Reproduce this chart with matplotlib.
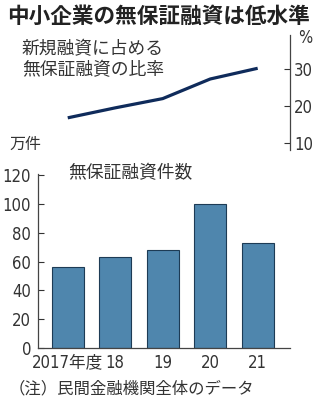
import matplotlib
matplotlib.use("Agg")
import matplotlib.pyplot as plt

years = ["2017年度", "18", "19", "20", "21"]
ratio = [16.8, 19.5, 22.0, 27.3, 30.2]       # %, unsecured share of new loans
counts = [56, 63, 68, 100, 73]                 # 万件

jp = ["Noto Sans CJK JP", "DejaVu Sans"]
num = ["DejaVu Sans", "Noto Sans CJK JP"]
txt = "#333333"

fig = plt.figure(figsize=(3.19, 4.05), dpi=100)

xs = list(range(len(years)))
xlim = (-0.627, 4.68)

# top: ratio line, right axis
ax1 = fig.add_axes([0.119, 0.6296, 0.790, 0.284])
ax1.plot(xs, ratio, color="#0f2b5b", lw=2.3, solid_capstyle="butt")
ax1.set_xlim(*xlim)
ax1.set_ylim(8.1, 39.2)
ax1.yaxis.tick_right()
ax1.set_yticks([10, 20, 30])
ax1.tick_params(axis="y", direction="in", length=4, width=0.8, pad=3,
                colors=txt, labelsize=12)
ax1.set_xticks([])
for s in ["top", "left", "bottom"]:
    ax1.spines[s].set_visible(False)
ax1.spines["right"].set_color("#444444")
ax1.spines["right"].set_linewidth(0.9)
for lab in ax1.get_yticklabels():
    lab.set_family(num)
    lab.set_fontstretch("condensed")

# bottom: bar chart
ax2 = fig.add_axes([0.119, 0.1407, 0.790, 0.4296])
ax2.bar(xs, counts, width=0.68, color="#4f86ad", edgecolor="#1d3b55", lw=0.8)
ax2.set_xlim(*xlim)
ax2.set_ylim(0, 121)
ax2.set_yticks(range(0, 121, 20))
ax2.set_xticks(xs)
ax2.set_xticklabels(years)
ax2.tick_params(axis="y", direction="in", length=4, width=0.8, pad=5,
                colors=txt, labelsize=12)
ax2.tick_params(axis="x", length=0, pad=4, colors=txt, labelsize=12)
for s in ["top", "right"]:
    ax2.spines[s].set_visible(False)
for s in ["left", "bottom"]:
    ax2.spines[s].set_color("#444444")
    ax2.spines[s].set_linewidth(0.9)
for lab in ax2.get_yticklabels() + ax2.get_xticklabels():
    lab.set_family(num)
    lab.set_fontstretch("condensed")

# texts
fig.text(0.497, 0.960, "中小企業の無保証融資は低水準", family=jp, fontsize=15.6,
         fontweight="bold", color="#222222", ha="center", va="center")
fig.text(0.069, 0.852, "新規融資に占める\n無保証融資の比率", family=jp, fontsize=12.8,
         color=txt, ha="left", va="center", linespacing=1.25)
fig.text(0.957, 0.907, "%", family=num, fontsize=12, color=txt,
         ha="center", va="center", fontstretch="condensed")
fig.text(0.031, 0.644, "万件", family=jp, fontsize=11.5, color=txt,
         ha="left", va="center")
fig.text(0.213, 0.573, "無保証融資件数", family=jp, fontsize=12.8, color=txt,
         ha="left", va="center")
fig.text(0.028, 0.040, "（注）民間金融機関全体のデータ", family=jp, fontsize=11.8,
         color=txt, ha="left", va="center")

fig.savefig("out.png", dpi=100)
